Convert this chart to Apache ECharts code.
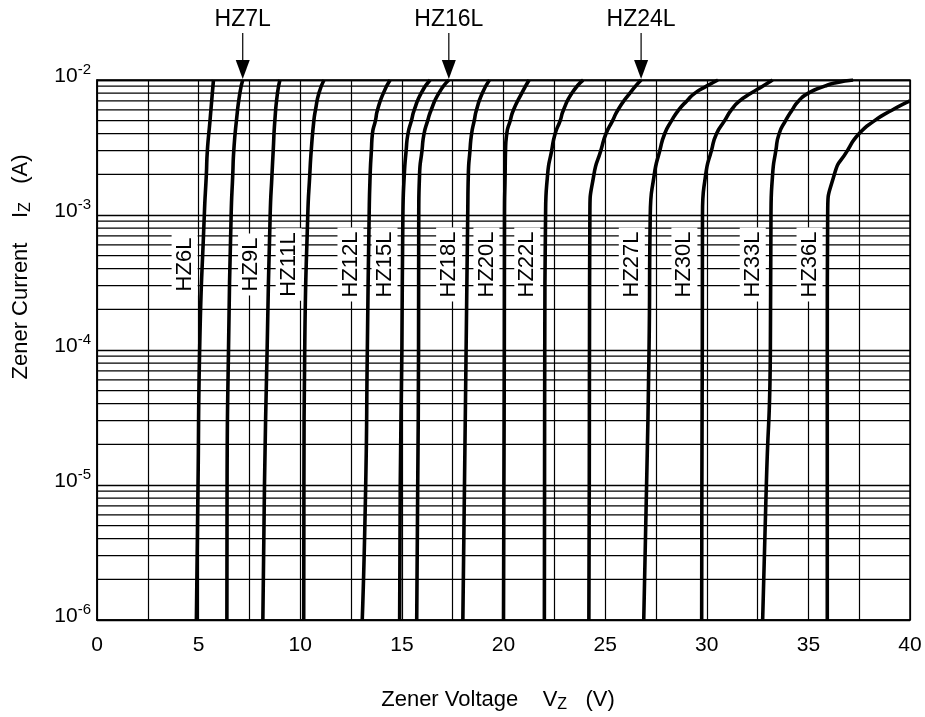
<!DOCTYPE html>
<html><head><meta charset="utf-8">
<script src="https://cdn.jsdelivr.net/npm/echarts@6/dist/echarts.min.js"></script>
<style>html,body{margin:0;padding:0;background:#fff}#c{width:925px;height:717px}</style>
</head><body><div id="c"></div>
<script>
// Current levels (A) at which each curve's voltage was read
const currentLevels = [1e-6, 1e-5, 1e-4, 1e-3, 2e-3, 3e-3, 4e-3, 5e-3, 6e-3, 7e-3, 8e-3, 9e-3, 9.5e-3, 1e-2];
// Zener voltage (V) of each curve at those levels (null = not read)
const hz6L  = [4.89, 4.97, 5.05, 5.28, 5.38, 5.43, null, 5.56, null, null, null, null, null, 5.73];
const hz7L  = [6.39, 6.40, 6.47, 6.60, 6.68, 6.73, null, 6.86, null, null, 7.03, null, null, 7.17];
const hz9L  = [8.16, 8.24, 8.37, 8.52, 8.61, 8.67, null, 8.75, null, null, 8.88, null, null, 9.00];
const hz11L = [10.17, 10.18, 10.22, 10.37, 10.47, 10.54, null, 10.67, 10.75, null, 10.92, null, null, 11.17];
const hz12L = [13.05, 13.22, 13.30, 13.39, 13.44, 13.50, 13.55, 13.70, 13.80, null, 14.09, null, null, 14.42];
const hz15L = [14.89, 14.92, 15.00, 15.05, 15.12, 15.21, 15.30, 15.47, 15.61, null, 15.95, null, null, 16.39];
const hz16L = [15.73, 15.78, 15.82, 15.83, 15.87, 15.99, 16.09, 16.27, 16.44, null, 16.82, null, null, 17.31];
const hz18L = [18.00, 18.08, 18.16, 18.24, 18.27, 18.35, 18.43, 18.56, 18.67, null, 18.96, null, null, 19.31];
const hz20L = [20.00, 20.02, 20.04, 20.05, 20.08, 20.10, 20.16, 20.33, 20.49, null, 20.90, null, null, 21.26];
const hz22L = [22.01, 22.02, 22.03, 22.07, 22.17, 22.37, 22.54, 22.79, 22.95, null, 23.37, null, null, 23.92];
const hz24L = [24.20, 24.22, 24.23, 24.25, 24.45, 24.79, 25.04, 25.37, 25.63, null, 26.22, null, null, 26.77];
const hz27L = [26.90, 27.04, 27.16, 27.22, 27.42, 27.69, 27.93, 28.27, 28.62, 29.02, 29.42, 29.99, null, 30.55];
const hz30L = [29.75, 29.76, 29.78, 29.79, 29.95, 30.23, 30.48, 30.88, 31.21, 31.62, 32.19, 32.75, null, 33.24];
const hz33L = [32.75, 32.93, 33.13, 33.16, 33.24, 33.40, 33.56, 33.88, 34.20, 34.52, 35.00, 35.80, 36.30, 37.20];
const hz36L = [35.93, 35.93, 35.93, 35.95, 36.28, 36.92, 37.49, 38.26, 39.13, 40.00, null, null, null, null];

const curveNames = ['HZ6L','HZ7L','HZ9L','HZ11L','HZ12L','HZ15L','HZ16L','HZ18L','HZ20L','HZ22L','HZ24L','HZ27L','HZ30L','HZ33L','HZ36L'];
const curveVolts = [hz6L, hz7L, hz9L, hz11L, hz12L, hz15L, hz16L, hz18L, hz20L, hz22L, hz24L, hz27L, hz30L, hz33L, hz36L];
const sideLabelNames = ['HZ6L','HZ9L','HZ11L','HZ12L','HZ15L','HZ18L','HZ20L','HZ22L','HZ27L','HZ30L','HZ33L','HZ36L'];
const arrowLabelNames = ['HZ7L','HZ16L','HZ24L'];
const sideLabelCurrent = 4.3e-4;
const decades = [1e-6, 1e-5, 1e-4, 1e-3];
const minorMultipliers = [2, 3, 4, 5, 6, 7, 8, 9];
const xMin = 0, xMax = 40, xStep = 2.5, xLabelStep = 5;
const yMin = 1e-6, yMax = 1e-2;

const FONT = '"Liberation Sans", Arial, Helvetica, sans-serif';

const curvePoints = curveVolts.map(vs => currentLevels.map((c, j) => [vs[j], c]).filter(p => p[0] != null));

const series = [];
// minor log grid lines (2..9 x each decade) as plain line series
decades.forEach(d => minorMultipliers.forEach(m => {
  series.push({ type: 'line', data: [[xMin, d * m], [xMax, d * m]], symbol: 'none', silent: true,
    animation: false, z: 1, lineStyle: { color: '#000', width: 1.2 } });
}));
curveNames.forEach((name, i) => series.push({
  type: 'line', name, smooth: 0.6, symbol: 'none', silent: true, animation: false,
  lineStyle: { color: '#000', width: 3.6 }, z: 5,
  data: curvePoints[i]
}));

const chart = echarts.init(document.getElementById('c'), null, { renderer: 'canvas' });
chart.setOption({
  backgroundColor: '#fff',
  animation: false,
  grid: { left: 97, right: 15, top: 80, bottom: 97, show: true, borderColor: '#000', borderWidth: 1.5, backgroundColor: 'transparent' },
  xAxis: {
    type: 'value', min: xMin, max: xMax, interval: xStep,
    axisLine: { show: true, lineStyle: { color: '#000', width: 1.5 } },
    axisTick: { show: false },
    splitLine: { show: true, lineStyle: { color: '#000', width: 1.2 } },
    axisLabel: { color: '#000', fontSize: 21, fontFamily: FONT, margin: 15,
      formatter: v => (Math.abs(v / xLabelStep - Math.round(v / xLabelStep)) < 1e-9 ? String(v) : '') }
  },
  yAxis: {
    type: 'log', logBase: 10, min: yMin, max: yMax,
    axisLine: { show: true, lineStyle: { color: '#000', width: 1.5 } },
    axisTick: { show: false },
    splitLine: { show: true, lineStyle: { color: '#000', width: 1.3 } },
    axisLabel: { color: '#000', fontFamily: FONT, margin: 6, padding: [0, 0, 8, 0],
      formatter: v => '{b|10}{s|' + Math.round(Math.log10(v)) + '}',
      rich: { b: { fontSize: 21, fontFamily: FONT, color: '#000', lineHeight: 28 },
              s: { fontSize: 15, fontFamily: FONT, color: '#000', lineHeight: 14, verticalAlign: 'top' } } }
  },
  series
});

function voltAt(i, cur) {
  const pts = curvePoints[i];
  const lc = Math.log10(cur);
  for (let j = 0; j < pts.length - 1; j++) {
    const a = Math.log10(pts[j][1]), b = Math.log10(pts[j + 1][1]);
    if (lc >= a && lc <= b) return pts[j][0] + (lc - a) / (b - a) * (pts[j + 1][0] - pts[j][0]);
  }
  return pts[pts.length - 1][0];
}

const graphics = [];
sideLabelNames.forEach(name => {
  const i = curveNames.indexOf(name);
  const p = chart.convertToPixel({ gridIndex: 0 }, [voltAt(i, sideLabelCurrent), sideLabelCurrent]);
  graphics.push({ type: 'text', x: p[0] - 18, y: p[1], rotation: Math.PI / 2, z: 20, silent: true,
    style: { text: name, font: '22px ' + FONT, fill: '#000', align: 'center', verticalAlign: 'middle',
      backgroundColor: '#fff', padding: [2, 4] } });
});
arrowLabelNames.forEach(name => {
  const i = curveNames.indexOf(name);
  const top = curvePoints[i][curvePoints[i].length - 1];
  const p = chart.convertToPixel({ gridIndex: 0 }, top);
  graphics.push({ type: 'text', x: p[0], y: 20, z: 20, silent: true,
    style: { text: name, font: '23px ' + FONT, fill: '#000', align: 'center', verticalAlign: 'middle' } });
  graphics.push({ type: 'line', z: 20, silent: true, shape: { x1: p[0], y1: 33, x2: p[0], y2: p[1] - 16 },
    style: { stroke: '#000', lineWidth: 1.2 } });
  graphics.push({ type: 'polygon', z: 20, silent: true,
    shape: { points: [[p[0] - 7, p[1] - 20], [p[0] + 7, p[1] - 20], [p[0], p[1] - 1]] }, style: { fill: '#000' } });
});
graphics.push({ type: 'text', x: 498, y: 700, z: 20, silent: true,
  style: { text: '{n|Zener Voltage    V}{u|Z}{n|   (V)}', align: 'center', verticalAlign: 'middle',
    rich: { n: { fontSize: 22, fontFamily: FONT, fill: '#000', lineHeight: 26 },
            u: { fontSize: 16, fontFamily: FONT, fill: '#000', lineHeight: 16, verticalAlign: 'bottom' } } } });
graphics.push({ type: 'text', x: 21, y: 267, rotation: Math.PI / 2, z: 20, silent: true,
  style: { text: '{n|Zener Current    I}{u|Z}{n|   (A)}', align: 'center', verticalAlign: 'middle',
    rich: { n: { fontSize: 22, fontFamily: FONT, fill: '#000', lineHeight: 26 },
            u: { fontSize: 16, fontFamily: FONT, fill: '#000', lineHeight: 16, verticalAlign: 'bottom' } } } });
chart.setOption({ graphic: graphics });
</script></body></html>
